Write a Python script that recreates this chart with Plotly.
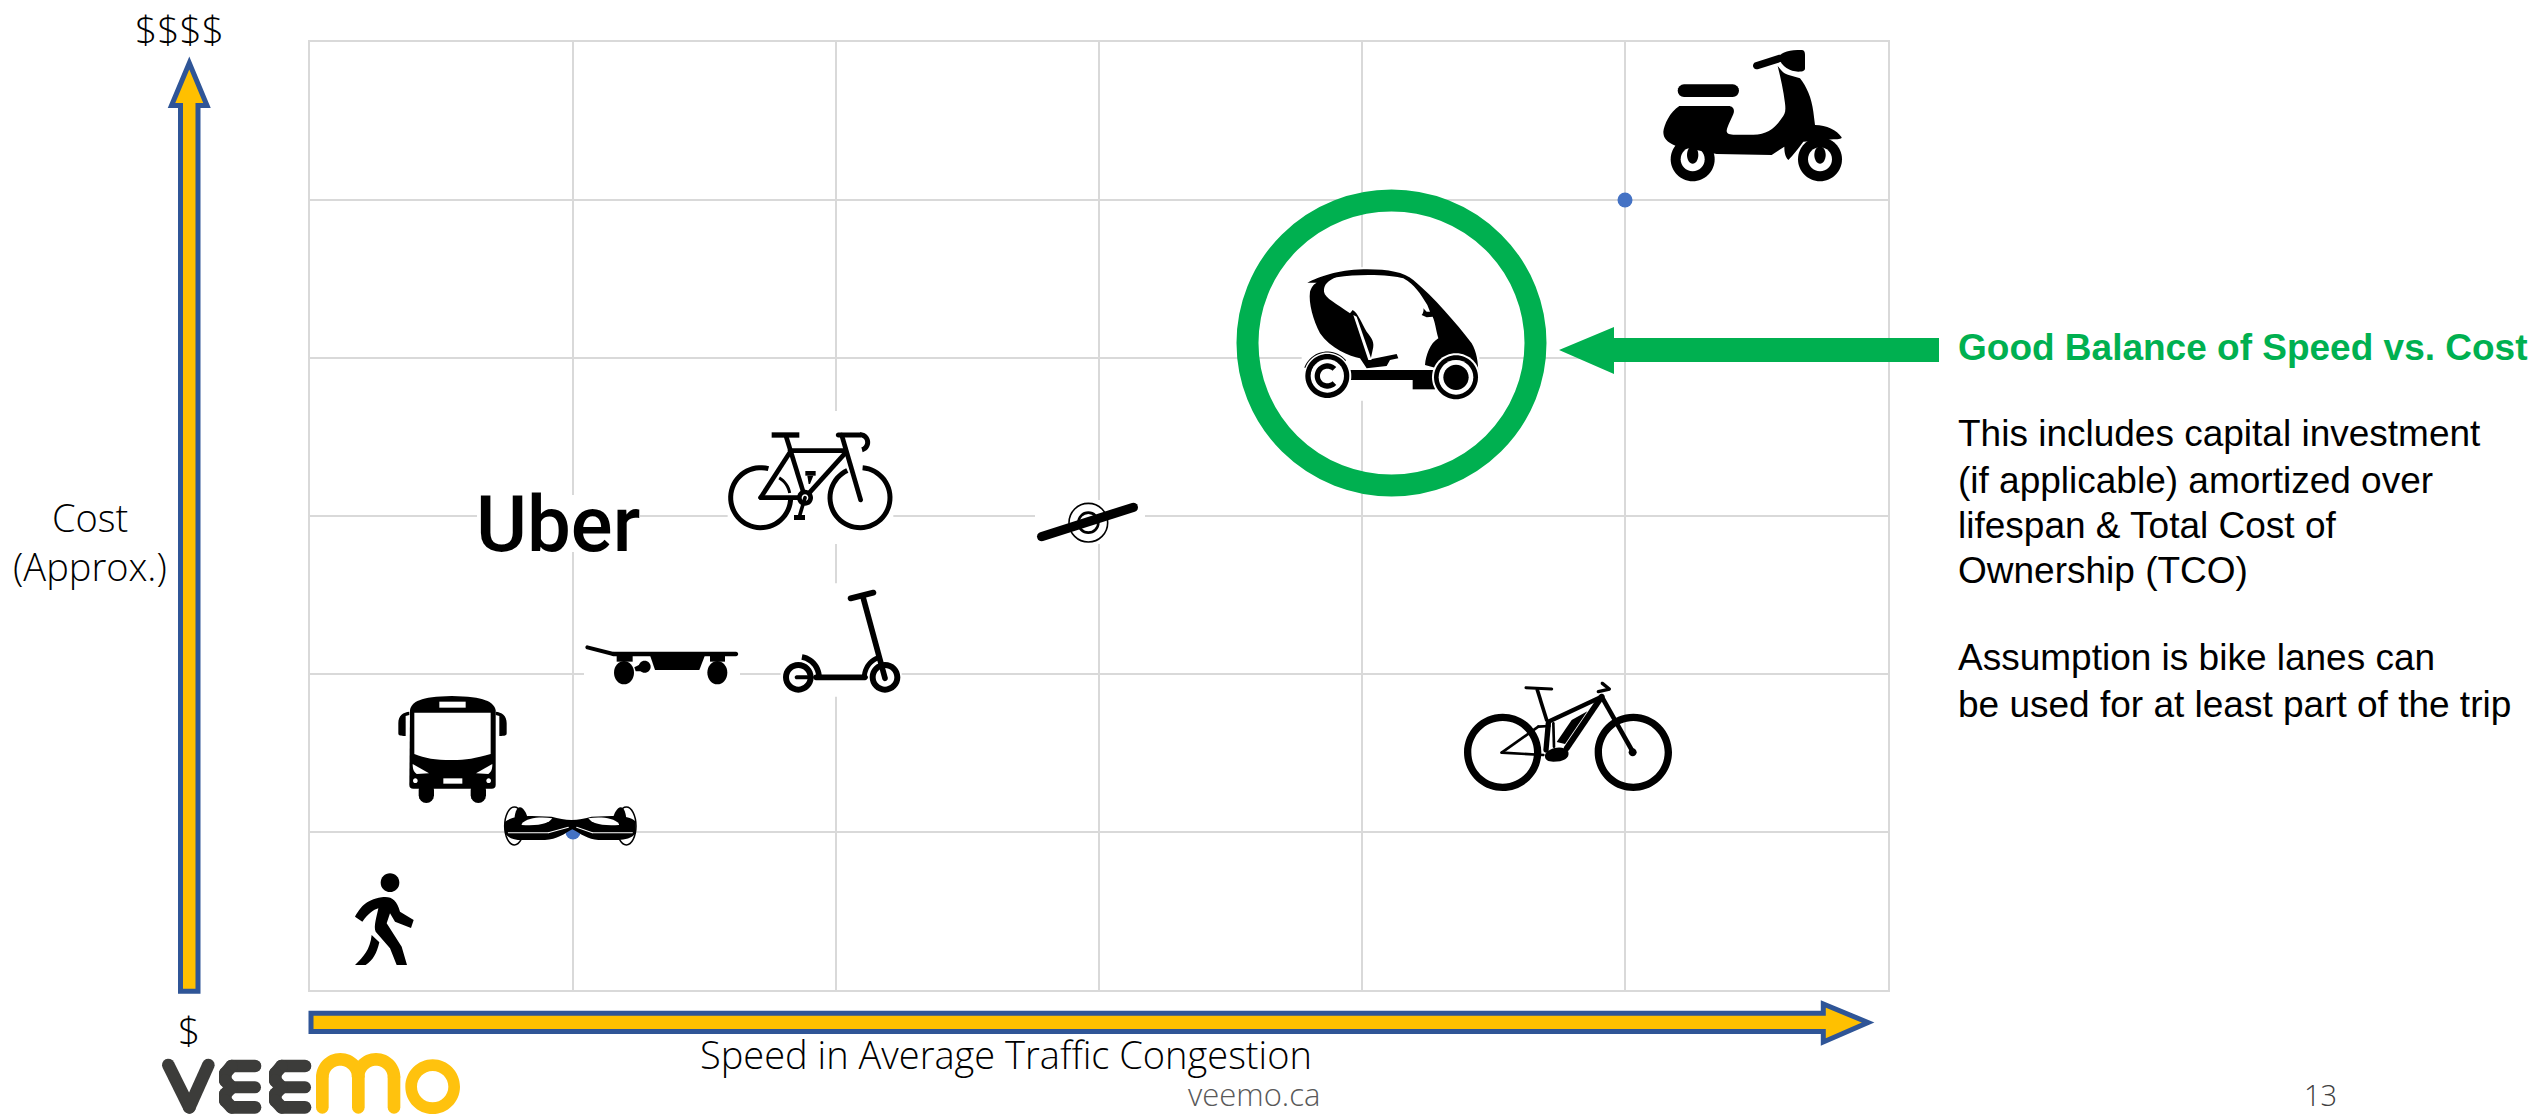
import math, re
import plotly.graph_objects as go

# ---- data (speed, cost) --------------------------------------------------
mode_names = ["Walk", "Bus", "Hoverboard", "Electric skateboard", "Kick scooter", "Uber",
              "Bicycle", "Onewheel", "Three-wheeler", "Moped", "E-bike"]
mode_speed = [0.285, 0.54, 0.989, 1.339, 2.019, 0.943, 1.901, 2.955, 4.114, 5.487, 4.784]
mode_cost = [0.443, 1.519, 1.038, 2.057, 2.209, 2.949, 3.222, 2.975, 4.158, 5.538, 1.614]
dot_speed = [1, 5]
dot_cost = [1, 5]
grid_ticks = [0, 1, 2, 3, 4, 5, 6]
side_lines = ["This includes capital investment", "(if applicable) amortized over",
              "lifespan & Total Cost of", "Ownership (TCO)",
              "Assumption is bike lanes can", "be used for at least part of the trip"]
side_centers = [434, 481, 525, 570, 657, 704]

W, H = 2532, 1114
L, R, T, B = 310, 1888, 42, 990
XU = (R - L) / 6
YU = (B - T) / 6
BLACK = "#000000"
WHITE = "#FFFFFF"
GREEN = "#00B050"
GOLD = "#FFC000"
BLUE = "#2F5597"

shapes = []
anchor = {n: (s, c) for n, s, c in zip(mode_names, mode_speed, mode_cost)}


# ---- geometry helpers, all in local units with y down -------------------
def ell(cx, cy, rx, ry=None):
    ry = rx if ry is None else ry
    k = 0.5523
    return (f"M {cx+rx} {cy} C {cx+rx} {cy+k*ry} {cx+k*rx} {cy+ry} {cx} {cy+ry} "
            f"C {cx-k*rx} {cy+ry} {cx-rx} {cy+k*ry} {cx-rx} {cy} "
            f"C {cx-rx} {cy-k*ry} {cx-k*rx} {cy-ry} {cx} {cy-ry} "
            f"C {cx+k*rx} {cy-ry} {cx+rx} {cy-k*ry} {cx+rx} {cy} Z")


def poly(pts):
    return "M " + " L ".join(f"{x:.2f} {y:.2f}" for x, y in pts) + " Z"


def cap(x1, y1, x2, y2, w):
    a = math.atan2(y2 - y1, x2 - x1)
    r = w / 2
    pts = []
    for i in range(9):
        t = a + math.pi / 2 + math.pi * i / 8
        pts.append((x1 + r * math.cos(t), y1 + r * math.sin(t)))
    for i in range(9):
        t = a - math.pi / 2 + math.pi * i / 8
        pts.append((x2 + r * math.cos(t), y2 + r * math.sin(t)))
    return poly(pts)


def chain(pts, w):
    return [cap(*pts[i], *pts[i + 1], w) for i in range(len(pts) - 1)]


def arc(cx, cy, r, a0, a1, w):
    n = max(6, int(abs(a1 - a0) / 6))
    ang = [math.radians(a0 + (a1 - a0) * i / n) for i in range(n + 1)]
    o = [(cx + (r + w / 2) * math.cos(t), cy + (r + w / 2) * math.sin(t)) for t in ang]
    i = [(cx + (r - w / 2) * math.cos(t), cy + (r - w / 2) * math.sin(t)) for t in reversed(ang)]
    return poly(o + i)


def ring(cx, cy, r, w):
    return ell(cx, cy, r + w / 2) + " " + ell(cx, cy, r - w / 2)


def rect(x0, y0, x1, y1):
    return poly([(x0, y0), (x1, y0), (x1, y1), (x0, y1)])


def place(d, ox, oy, s, base, fill=BLACK, stroke=None, sw=0):
    toks = re.findall(r"[MLCQZ]|-?\d+\.?\d*(?:e-?\d+)?", d)
    out, isx = [], True
    for t in toks:
        if t in "MLCQZ":
            out.append(t)
            isx = True
        else:
            v = float(t)
            if isx:
                out.append(f"{ox + v * s:.2f}")
            else:
                out.append(f"{-(oy + v * s):.2f}")
            isx = not isx
    shape = dict(type="path", path=" ".join(out), fillcolor=fill, layer="above",
                 line=dict(color=stroke or fill, width=sw),
                 xsizemode="pixel", ysizemode="pixel", **base)
    shapes.append(shape)


def icon(name, cropx, cropy, parts):
    sp, co = anchor[name]
    base = dict(xref="x", yref="y", xanchor=sp, yanchor=co)
    ox = cropx - (L + sp * XU)
    oy = cropy - (B - co * YU)
    for p in parts:
        if isinstance(p, str):
            place(p, ox, oy, 1 / 3, base)
        else:
            place(p[0], ox, oy, 1 / 3, base, fill=p[1], stroke=p[2] if len(p) > 2 else None,
                  sw=p[3] if len(p) > 3 else 0)


PAPER = dict(xref="paper", yref="paper", xanchor=0, yanchor=0)


def free(d, cropx=0, cropy=0, s=1, fill=BLACK, stroke=None, sw=0):
    place(d, cropx - L, cropy - B, s, PAPER, fill=fill, stroke=stroke, sw=sw)


# ---- white patches the pictures carried -------------------------------------
icon("Uber", 477, 495, [(rect(0, 0, 489, 171), WHITE)])
icon("Bicycle", 700, 410, [(rect(83, 3, 580, 402), WHITE)])
icon("Onewheel", 700, 410, [(rect(1005, 270, 1335, 402), WHITE)])
icon("Electric skateboard", 570, 580, [(rect(42, 190, 510, 318), WHITE)])
icon("Kick scooter", 570, 580, [(rect(632, 10, 995, 350), WHITE)])
icon("Three-wheeler", 1300, 260, [(rect(5, 22, 538, 422), WHITE)])

# ---- icons -----------------------------------------------------------------
icon("Walk", 345, 690, [
    ell(135, 578, 28),
    "M 30 680 C 45 655 60 630 110 622 C 140 618 155 630 165 665 L 206 690 L 198 714 L 150 695 "
    "L 135 670 L 125 700 L 170 770 L 186 825 L 155 825 L 135 775 L 92 725 C 85 710 95 680 100 655 "
    "C 85 660 70 670 52 695 Z",
    "M 80 735 L 103 757 C 95 790 85 810 62 825 L 30 825 C 55 800 75 780 80 735 Z",
])
icon("Bus", 345, 690, [
    "M 195 60 C 200 35 225 20 320 18 C 420 20 445 35 452 60 L 452 285 C 452 293 448 296 440 296 "
    "L 205 296 C 197 296 193 293 193 285 Z",
    "M 193 65 C 175 67 160 75 160 100 L 160 130 C 160 137 165 138 182 138 L 182 78 L 193 75 Z",
    "M 452 65 C 470 67 485 75 485 100 L 485 130 C 485 137 480 138 463 138 L 463 78 L 452 75 Z",
    cap(244, 300, 244, 316, 46), cap(400, 300, 400, 316, 46),
    ("M 208 68 L 437 68 L 437 192 C 390 205 365 210 320 210 C 270 210 240 205 208 192 Z", WHITE),
    (rect(283, 35, 362, 53), WHITE), (rect(295, 265, 352, 281), WHITE),
    ("M 203 222 L 252 250 L 215 252 C 205 245 203 235 203 222 Z", WHITE),
    ("M 442 222 L 393 250 L 430 252 C 440 245 442 235 442 222 Z", WHITE),
    (ell(211, 272, 7), WHITE), (ell(431, 272, 7), WHITE),
])
icon("Hoverboard", 345, 690, [
    (ell(508, 408, 29, 57), WHITE, BLACK, 1.5), (ell(844, 408, 29, 57), WHITE, BLACK, 1.5),
    "M 508 395 C 508 370 515 352 525 352 C 535 352 545 370 548 385 Z",
    "M 844 395 C 844 370 837 352 827 352 C 817 352 807 370 804 385 Z",
    "M 480 395 C 500 380 530 378 560 378 L 620 380 C 640 385 660 390 680 390 C 700 390 720 385 "
    "740 380 L 800 378 C 830 378 860 380 872 395 L 872 430 C 860 445 840 450 820 450 L 760 450 "
    "C 730 450 705 430 682 418 C 660 430 635 450 600 450 L 530 450 C 510 450 490 445 480 430 Z",
    ("M 530 402 C 545 382 590 380 622 385 C 610 400 590 408 530 405 Z", WHITE),
    ("M 822 402 C 807 382 762 380 730 385 C 742 400 762 408 822 405 Z", WHITE),
    (cap(490, 428, 610, 428, 3), WHITE), (cap(610, 428, 670, 412, 3), WHITE),
    (cap(862, 428, 742, 428, 3), WHITE), (cap(742, 428, 695, 412, 3), WHITE),
])
icon("Electric skateboard", 570, 580, [
    cap(52, 202, 130, 222, 12), cap(130, 222, 498, 222, 13),
    poly([(240, 226), (405, 226), (388, 270), (255, 270)]),
    rect(140, 226, 188, 245), rect(420, 226, 465, 245),
    ell(162, 278, 30, 35), ell(442, 278, 30, 35),
    ell(224, 260, 18), poly([(193, 262), (225, 246), (225, 274), (197, 274)]),
])
icon("Kick scooter", 570, 580, [
    cap(842, 55, 910, 38, 18), cap(880, 55, 945, 295, 17),
    ring(685, 292, 37, 18), ring(945, 292, 37, 18),
    cap(680, 292, 712, 292, 12), cap(738, 292, 885, 292, 17),
    arc(945, 292, 62, 180, 250, 15), arc(685, 292, 62, -80, 0, 17),
])
icon("Bicycle", 700, 410, [
    arc(182, 263, 90, 0, 285, 15), arc(480, 263, 90, -85, 245, 15),
    cap(270, 122, 432, 122, 14), cap(258, 78, 315, 263, 14), cap(437, 128, 315, 263, 14),
    cap(268, 130, 182, 263, 14), cap(182, 263, 315, 263, 14),
    rect(215, 67, 298, 83), cap(425, 75, 482, 270, 14), cap(415, 75, 480, 75, 15),
    arc(480, 97, 23, -90, 75, 15),
    arc(205, 260, 65, -60, -10, 9),
    (ell(315, 263, 24), BLACK), (ell(315, 263, 10), WHITE),
    cap(315, 263, 298, 320, 11), rect(282, 315, 315, 330),
    rect(316, 183, 347, 197), poly([(322, 197), (340, 197), (330, 222), (326, 222)]),
])
icon("Onewheel", 700, 410, [
    (ell(1165, 338, 58), WHITE, BLACK, 1.6), (ell(1165, 338, 30), WHITE, BLACK, 2.6),
    cap(1025, 380, 1300, 292, 28),
])
icon("Three-wheeler", 1300, 260, [
    "M 22 68 C 60 50 110 30 190 28 C 260 27 310 35 340 60 C 400 110 470 190 515 250 "
    "C 530 275 535 310 535 340 L 520 320 C 500 295 460 290 430 295 L 410 325 L 375 315 "
    "C 378 285 390 250 415 235 C 408 210 405 185 398 170 L 380 172 L 365 165 C 370 160 372 150 370 145 "
    "L 380 155 L 390 155 L 382 135 C 360 100 345 75 310 55 C 280 45 180 40 110 52 C 85 60 70 75 72 95 "
    "C 75 115 110 130 150 160 L 158 150 C 175 160 185 190 200 215 C 215 235 225 245 218 270 L 212 298 "
    "L 290 282 L 295 295 L 270 300 L 260 318 L 200 325 L 180 295 C 150 290 90 265 60 220 "
    "C 40 180 25 130 30 95 C 33 85 40 72 50 68 Z",
    (poly([(160, 165), (170, 170), (215, 300), (205, 300)]), WHITE),
    rect(150, 330, 410, 360), rect(338, 358, 405, 388),
    (ell(82, 348, 72), WHITE), (ell(468, 352, 72), WHITE),
    arc(82, 348, 72, 200, 320, 3),
    ell(82, 348, 66), (ell(82, 348, 50), WHITE), arc(82, 348, 30, 45, 315, 16),
    ell(468, 352, 66), (ell(468, 352, 52), WHITE), ell(468, 352, 38),
])
icon("Moped", 1650, 40, [
    ell(128, 358, 66), ell(510, 358, 66),
    (ell(128, 358, 36), WHITE), (ell(510, 358, 36), WHITE),
    ell(128, 345, 17, 26), ell(510, 345, 17, 26),
    cap(102, 152, 248, 152, 38),
    "M 88 198 L 235 198 C 250 198 255 210 250 222 C 245 235 232 258 230 272 C 230 282 240 284 255 284 "
    "L 310 284 C 350 284 375 265 395 235 C 405 222 408 215 405 190 C 400 150 392 115 383 78 "
    "L 395 92 C 405 105 430 108 450 115 C 470 140 485 175 490 215 L 495 255 C 530 255 560 270 575 292 "
    "C 575 297 570 298 550 298 L 460 305 C 445 325 430 345 415 360 C 405 350 403 335 403 320 "
    "L 365 345 L 200 342 L 78 318 C 50 305 40 295 40 275 C 42 255 60 215 88 198 Z",
    "M 385 52 C 395 35 420 30 455 30 C 462 30 465 35 465 45 L 465 85 C 465 92 460 95 445 95 "
    "C 420 95 395 80 385 52 Z",
    cap(320, 77, 390, 55, 22),
])
icon("E-bike", 1400, 640, [
    ring(308, 337, 105, 22), ring(700, 337, 105, 22),
    cap(378, 143, 455, 147, 9), cap(412, 150, 440, 240, 11),
    cap(445, 245, 605, 170, 13), cap(605, 170, 500, 325, 18), cap(605, 170, 698, 335, 14),
    ell(698, 337, 12), cap(595, 155, 625, 148, 10), cap(607, 130, 628, 147, 10),
    "M 515 240 L 562 214 L 495 312 L 470 306 Z",
    "M 435 345 C 440 325 490 312 505 335 C 510 355 490 365 460 365 C 445 365 433 360 435 345 Z",
    cap(305, 338, 415, 260, 8), cap(305, 338, 430, 345, 8), cap(415, 260, 448, 258, 8),
    cap(445, 250, 438, 330, 16), cap(460, 250, 462, 320, 8),
])

# ---- green ring and arrow -----------------------------------------------------
sp, co = anchor["Three-wheeler"]
cx_off = 1391.5 - (L + sp * XU)
cy_off = 343 - (B - co * YU)
shapes.append(dict(type="circle", xref="x", yref="y", xsizemode="pixel", ysizemode="pixel",
                   xanchor=sp, yanchor=co, layer="above",
                   x0=cx_off - 144, x1=cx_off + 144, y0=-cy_off - 142.5, y1=-cy_off + 142.5,
                   line=dict(color=GREEN, width=22), fillcolor="rgba(0,0,0,0)"))
free(poly([(1559, 350), (1614, 327), (1614, 338), (1939, 338), (1939, 362), (1614, 362), (1614, 374)]),
     fill=GREEN)

# ---- axis arrows ---------------------------------------------------------------
free(poly([(189.3, 63), (207, 105.5), (198, 105.5), (198, 991.3), (180.5, 991.3), (180.5, 105.5),
           (171.5, 105.5)]), fill=GOLD, stroke=BLUE, sw=5)
free(poly([(311, 1013.2), (1823.3, 1013.2), (1823.3, 1004), (1868, 1022.5), (1823.3, 1042),
           (1823.3, 1031.5), (311, 1031.5)]), fill=GOLD, stroke=BLUE, sw=5)

# ---- VEEMO logo ------------------------------------------------------------------
GREY = "#3C3C3A"
LOGO = "#FFC20E"
logo = [(p, GREY) for p in chain([(55, 225), (118, 352), (175, 225)], 38)]
for dx in (0, 150):
    logo += [(cap(245 + dx, 228, 315 + dx, 228, 38), GREY),
             (cap(245 + dx, 292, 315 + dx, 292, 36), GREY),
             (cap(245 + dx, 352, 315 + dx, 352, 38), GREY)]
    logo += [(p, GREY) for p in chain([(245 + dx, 228), (226 + dx, 250), (226 + dx, 272), (245 + dx, 292),
                                       (226 + dx, 312), (226 + dx, 332), (245 + dx, 352)], 38)]
for x in (517, 625, 732):
    logo.append((cap(x, 262, x, 352, 38), LOGO))
logo += [(arc(571, 262, 54, 180, 360, 38), LOGO), (arc(678, 262, 54, 180, 360, 38), LOGO),
         (ring(848, 290, 64.5, 35), LOGO)]
for d, c in logo:
    free(d, 150, 990, 1 / 3, fill=c)

# ---- figure ----------------------------------------------------------------------
fig = go.Figure()
fig.add_trace(go.Scatter(x=dot_speed, y=dot_cost, mode="markers",
                         marker=dict(color="#4472C4", size=15), showlegend=False, hoverinfo="skip"))

OPEN = "Open Sans"
ARIAL = "Liberation Sans"
notes = []


def note(text, x, y, size, font=OPEN, color=BLACK, xanchor="center", weight=None):
    f = dict(family=font, size=size, color=color)
    if weight:
        f["weight"] = weight
    notes.append(dict(text=text, xref="paper", yref="paper", x=(x - L) / (R - L), y=(B - y) / (B - T),
                      xanchor=xanchor, yanchor="middle", showarrow=False, font=f,
                      borderpad=0, borderwidth=0))


note("$$$$", 179, 28, 39, weight=300)
note("$", 189, 1029, 39, weight=300)
note("Cost", 90, 516.5, 38, weight=300)
note("(Approx.)", 90, 565.5, 38, weight=300)
note("Speed in Average Traffic Congestion", 1006, 1054, 38, weight=300)
note("veemo.ca", 1254, 1094, 31, color="#595959", weight=300)
note("13", 2320, 1094, 29, color="#404040", weight=300)
note("Uber", 558, 524, 78, font="Roboto", weight=500)
note("Good Balance of Speed vs. Cost", 1958, 347, 37, font=ARIAL, color=GREEN, xanchor="left", weight=700)
for line, c in zip(side_lines, side_centers):
    note(line, 1958, c, 37, font=ARIAL, xanchor="left")

axis = dict(range=[0, 6], tickmode="array", tickvals=grid_ticks, showticklabels=False, ticks="",
            showgrid=True, gridcolor="#D9D9D9", gridwidth=2, zeroline=False,
            showline=True, linecolor="#D9D9D9", linewidth=2, mirror=True, fixedrange=True)
fig.update_layout(width=W, height=H, margin=dict(l=L, r=W - R, t=T, b=H - B, pad=0),
                  paper_bgcolor=WHITE, plot_bgcolor=WHITE, xaxis=axis, yaxis=axis,
                  shapes=shapes, annotations=notes, showlegend=False)
fig.write_html("out.html", config=dict(displayModeBar=False),
               post_script="document.body.style.margin='0';document.body.style.overflow='hidden';")
